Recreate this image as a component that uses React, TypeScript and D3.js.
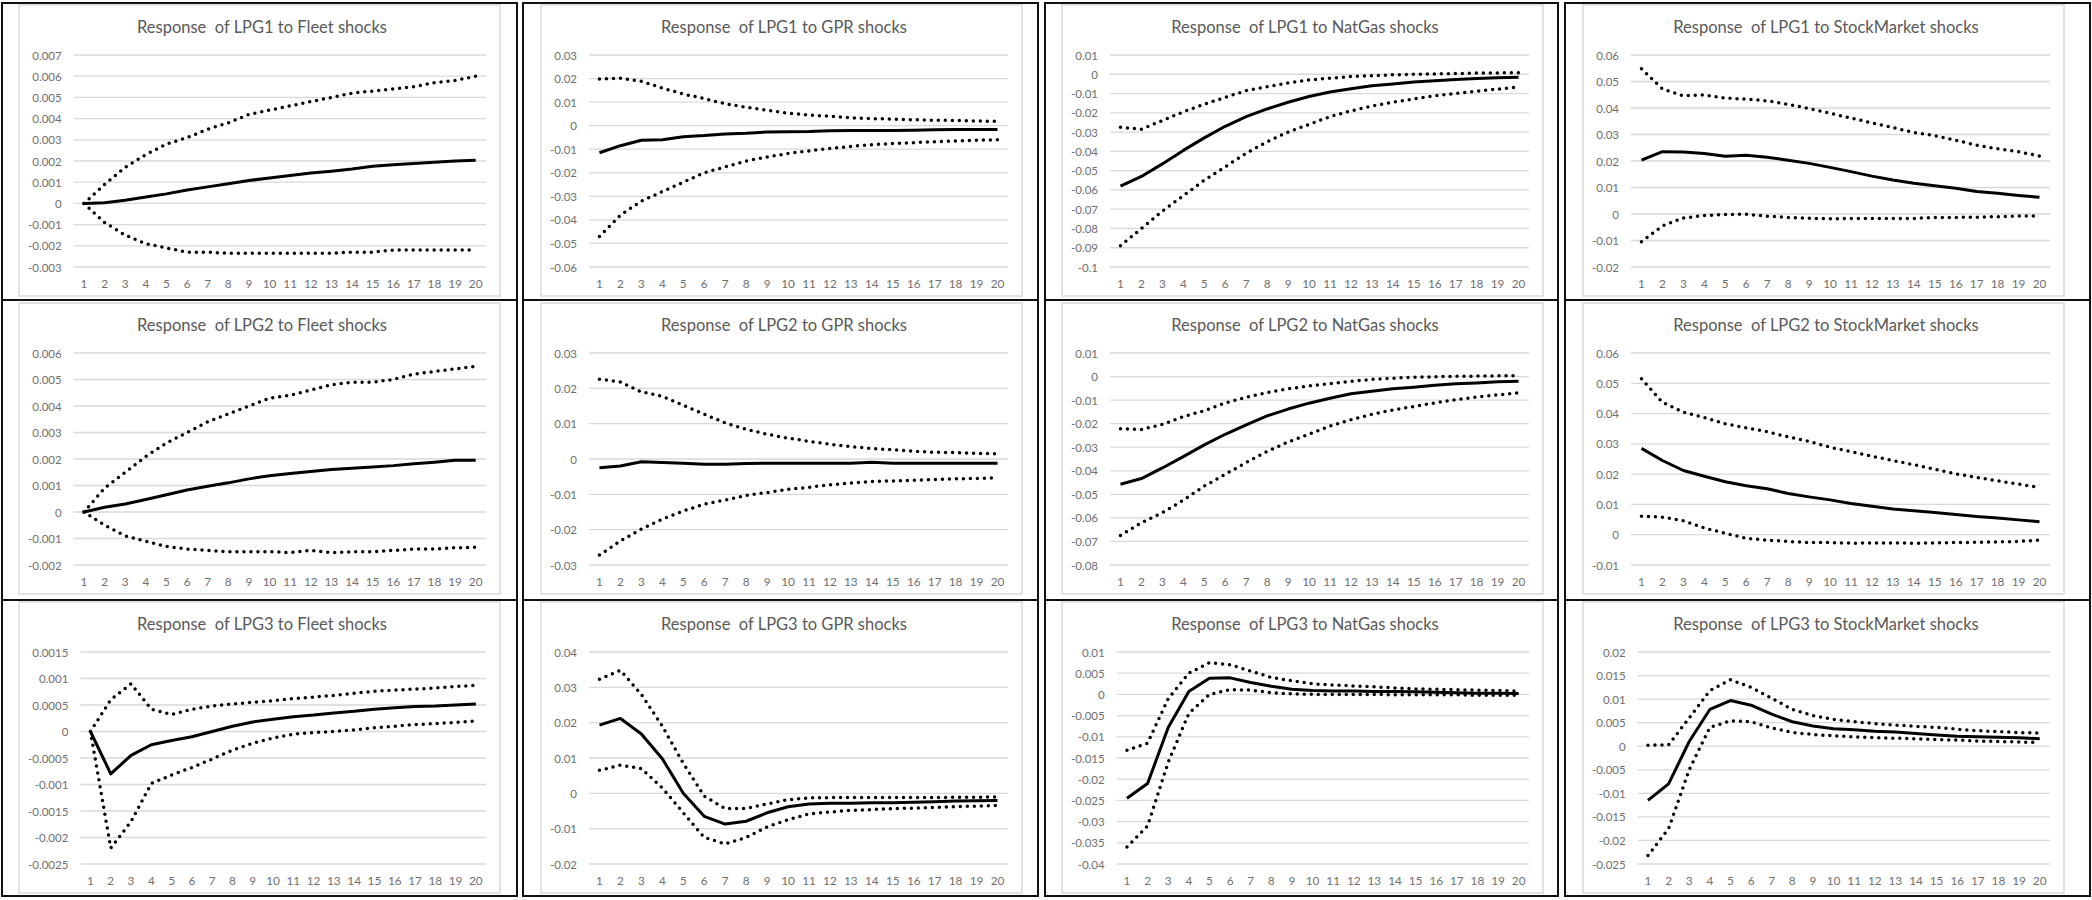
import React, { useRef, useEffect } from "react";
import * as d3 from "d3";

// Impulse responses: solid = response, dotted = lower / upper bands
const responseVars = ["LPG1", "LPG2", "LPG3"];
const shockVars = ["Fleet", "GPR", "NatGas", "StockMarket"];
const periods = d3.range(1, 21);

const lpg1FleetIrf = [0, 0.00003, 0.00015, 0.0003, 0.00045, 0.00063, 0.00078, 0.00093, 0.00108, 0.0012, 0.00132, 0.00143, 0.00152, 0.00162, 0.00175, 0.00182, 0.00188, 0.00194, 0.002, 0.00203];
const lpg1FleetLo = [0, -0.0009, -0.0015, -0.0019, -0.0021, -0.0023, -0.0023, -0.00235, -0.00235, -0.00235, -0.00235, -0.00235, -0.00235, -0.0023, -0.0023, -0.0022, -0.0022, -0.0022, -0.0022, -0.0022];
const lpg1FleetHi = [0, 0.0009, 0.0017, 0.0023, 0.0028, 0.0031, 0.0035, 0.0038, 0.0042, 0.0044, 0.0046, 0.0048, 0.005, 0.0052, 0.0053, 0.0054, 0.0055, 0.0057, 0.0058, 0.006];

const lpg1GprIrf = [-0.0115, -0.0085, -0.0062, -0.006, -0.0047, -0.0042, -0.0035, -0.0032, -0.0027, -0.0026, -0.0025, -0.0022, -0.0021, -0.002, -0.002, -0.0019, -0.0017, -0.0016, -0.0016, -0.0016];
const lpg1GprLo = [-0.047, -0.038, -0.032, -0.028, -0.024, -0.02, -0.0175, -0.015, -0.0133, -0.0118, -0.0107, -0.0097, -0.0088, -0.0081, -0.0076, -0.0072, -0.0068, -0.0065, -0.0062, -0.006];
const lpg1GprHi = [0.0198, 0.0201, 0.0188, 0.016, 0.0134, 0.0115, 0.0093, 0.0078, 0.0065, 0.0053, 0.0045, 0.004, 0.0033, 0.003, 0.0028, 0.0025, 0.0023, 0.0022, 0.002, 0.0018];

const lpg1GasIrf = [-0.058, -0.053, -0.0465, -0.0395, -0.033, -0.027, -0.022, -0.018, -0.0145, -0.0115, -0.0092, -0.0075, -0.006, -0.005, -0.004, -0.0033, -0.0027, -0.0022, -0.0018, -0.0015];
const lpg1GasLo = [-0.089, -0.08, -0.071, -0.063, -0.055, -0.048, -0.041, -0.035, -0.03, -0.026, -0.022, -0.019, -0.0165, -0.0145, -0.0128, -0.0112, -0.01, -0.0088, -0.0077, -0.0066];
const lpg1GasHi = [-0.0275, -0.0285, -0.024, -0.0195, -0.0155, -0.012, -0.0085, -0.0065, -0.0045, -0.003, -0.002, -0.0012, -0.0007, -0.0003, 0, 0.0002, 0.0004, 0.0006, 0.0007, 0.0008];

const lpg1StockIrf = [0.0203, 0.0235, 0.0234, 0.0228, 0.0218, 0.0222, 0.0214, 0.0203, 0.0191, 0.0176, 0.016, 0.0143, 0.0128, 0.0116, 0.0107, 0.0097, 0.0085, 0.0078, 0.007, 0.0063];
const lpg1StockLo = [-0.0105, -0.0045, -0.0015, -0.0006, -0.0002, -0.0001, -0.0008, -0.0013, -0.0016, -0.0018, -0.0017, -0.0017, -0.0017, -0.0017, -0.0013, -0.0013, -0.0012, -0.001, -0.0008, -0.0008];
const lpg1StockHi = [0.0548, 0.0472, 0.0446, 0.0449, 0.0437, 0.0434, 0.0427, 0.0414, 0.0398, 0.038, 0.0362, 0.0344, 0.0326, 0.0308, 0.0296, 0.0278, 0.026, 0.0246, 0.0235, 0.0219];

const lpg2FleetIrf = [0, 0.00018, 0.0003, 0.00047, 0.00065, 0.00083, 0.00097, 0.0011, 0.00125, 0.00137, 0.00145, 0.00153, 0.0016, 0.00165, 0.0017, 0.00175, 0.00182, 0.00188, 0.00195, 0.00195];
const lpg2FleetLo = [0, -0.0005, -0.0009, -0.0011, -0.0013, -0.0014, -0.00145, -0.0015, -0.0015, -0.0015, -0.00153, -0.00145, -0.00153, -0.0015, -0.0015, -0.00145, -0.0014, -0.0014, -0.00135, -0.00133];
const lpg2FleetHi = [0, 0.0009, 0.0015, 0.0021, 0.0026, 0.003, 0.0034, 0.0037, 0.004, 0.0043, 0.0044, 0.0046, 0.0048, 0.0049, 0.0049, 0.005, 0.0052, 0.0053, 0.0054, 0.0055];

const lpg2GprIrf = [-0.0025, -0.002, -0.0008, -0.001, -0.0012, -0.0015, -0.0015, -0.0013, -0.0012, -0.0012, -0.0012, -0.0012, -0.0012, -0.0009, -0.0012, -0.0012, -0.0012, -0.0012, -0.0012, -0.0012];
const lpg2GprLo = [-0.0272, -0.0232, -0.0198, -0.017, -0.0147, -0.0128, -0.0116, -0.0103, -0.0095, -0.0086, -0.008, -0.0073, -0.0068, -0.0064, -0.0062, -0.006, -0.0058, -0.0056, -0.0055, -0.0053];
const lpg2GprHi = [0.0226, 0.0218, 0.019, 0.0177, 0.0152, 0.0127, 0.0102, 0.0084, 0.007, 0.0059, 0.005, 0.0042, 0.0035, 0.003, 0.0026, 0.0022, 0.0019, 0.0018, 0.0016, 0.0015];

const lpg2GasIrf = [-0.0457, -0.0433, -0.0388, -0.034, -0.029, -0.0245, -0.0205, -0.0167, -0.0138, -0.0113, -0.0092, -0.0073, -0.0062, -0.0052, -0.0045, -0.0037, -0.0031, -0.0027, -0.0022, -0.002];
const lpg2GasLo = [-0.0675, -0.062, -0.0578, -0.0525, -0.0465, -0.0415, -0.0365, -0.0318, -0.0278, -0.0245, -0.021, -0.0183, -0.016, -0.0142, -0.0127, -0.0112, -0.0098, -0.0087, -0.0078, -0.0069];
const lpg2GasHi = [-0.0222, -0.0225, -0.0203, -0.017, -0.0145, -0.0112, -0.0088, -0.0068, -0.0052, -0.004, -0.003, -0.002, -0.0012, -0.0007, -0.0003, -0.0001, 0.0001, 0.0002, 0.0003, 0.0003];

const lpg2StockIrf = [0.0285, 0.0245, 0.0212, 0.0193, 0.0175, 0.0162, 0.0152, 0.0136, 0.0125, 0.0115, 0.0103, 0.0094, 0.0085, 0.0079, 0.0073, 0.0067, 0.006, 0.0055, 0.0049, 0.0043];
const lpg2StockLo = [0.0061, 0.0058, 0.0046, 0.0022, 0.0005, -0.0012, -0.0018, -0.0022, -0.0026, -0.0026, -0.0028, -0.0027, -0.0027, -0.0028, -0.0027, -0.0026, -0.0025, -0.0024, -0.0022, -0.0018];
const lpg2StockHi = [0.0515, 0.0437, 0.0405, 0.0387, 0.0366, 0.0353, 0.034, 0.0323, 0.0308, 0.0289, 0.0274, 0.0259, 0.0245, 0.0231, 0.0216, 0.0201, 0.0189, 0.0178, 0.0167, 0.0156];

const lpg3FleetIrf = [0, -0.0008, -0.00045, -0.00025, -0.00017, -0.0001, 0, 0.0001, 0.00018, 0.00023, 0.00028, 0.00031, 0.00035, 0.00038, 0.00042, 0.00045, 0.00047, 0.00048, 0.0005, 0.00052];
const lpg3FleetLo = [0, -0.0022, -0.0017, -0.00098, -0.00082, -0.00068, -0.00052, -0.00035, -0.00022, -0.00012, -0.00005, -0.00002, 0, 0.00003, 0.00007, 0.0001, 0.00013, 0.00015, 0.00017, 0.0002];
const lpg3FleetHi = [0, 0.0006, 0.0009, 0.00042, 0.00032, 0.00042, 0.00048, 0.00052, 0.00055, 0.00058, 0.00062, 0.00065, 0.00068, 0.00072, 0.00076, 0.00078, 0.0008, 0.00082, 0.00085, 0.00087];

const lpg3GprIrf = [0.0193, 0.0212, 0.0168, 0.0098, 0, -0.0065, -0.0087, -0.0079, -0.0055, -0.0038, -0.003, -0.0028, -0.0028, -0.0027, -0.0027, -0.0025, -0.0024, -0.0022, -0.0021, -0.002];
const lpg3GprLo = [0.0065, 0.008, 0.007, 0.0015, -0.0055, -0.0125, -0.0143, -0.0125, -0.0095, -0.0075, -0.0058, -0.0053, -0.0048, -0.0046, -0.0043, -0.0042, -0.004, -0.0038, -0.0036, -0.0034];
const lpg3GprHi = [0.0323, 0.0348, 0.028, 0.019, 0.0085, -0.0008, -0.0043, -0.0043, -0.003, -0.0018, -0.0013, -0.0012, -0.0012, -0.0012, -0.0012, -0.0012, -0.0012, -0.0011, -0.0011, -0.001];

const lpg3GasIrf = [-0.0245, -0.021, -0.0078, 0.0007, 0.0038, 0.0039, 0.0028, 0.0019, 0.0012, 0.0009, 0.0008, 0.0008, 0.0007, 0.0007, 0.0006, 0.0005, 0.0004, 0.0003, 0.0003, 0.0002];
const lpg3GasLo = [-0.036, -0.031, -0.016, -0.0045, 0, 0.0011, 0.001, 0.0004, 0.0001, 0, 0, 0, 0, -0.0001, -0.0001, -0.0001, -0.0001, -0.0002, -0.0002, -0.0002];
const lpg3GasHi = [-0.0132, -0.0115, -0.001, 0.005, 0.0075, 0.007, 0.0055, 0.004, 0.0032, 0.0025, 0.0022, 0.002, 0.0018, 0.0015, 0.0013, 0.0012, 0.0011, 0.001, 0.0009, 0.0008];

const lpg3StockIrf = [-0.0115, -0.008, 0.001, 0.0078, 0.0097, 0.0087, 0.0068, 0.0052, 0.0043, 0.0037, 0.0035, 0.0032, 0.003, 0.0027, 0.0024, 0.0021, 0.002, 0.0019, 0.0018, 0.0016];
const lpg3StockLo = [-0.0232, -0.0175, -0.005, 0.004, 0.0054, 0.0052, 0.0039, 0.0029, 0.0025, 0.0022, 0.002, 0.0018, 0.0017, 0.0016, 0.0014, 0.0013, 0.0011, 0.001, 0.0009, 0.0008];
const lpg3StockHi = [0.0002, 0.0003, 0.006, 0.0118, 0.0141, 0.0125, 0.0102, 0.0078, 0.0065, 0.0057, 0.0052, 0.0048, 0.0045, 0.0042, 0.004, 0.0036, 0.0033, 0.0031, 0.0029, 0.0028];

// y axis (min, max, major unit), panel order row by row
const yMin = [-0.003, -0.06, -0.1, -0.02, -0.002, -0.03, -0.08, -0.01, -0.0025, -0.02, -0.04, -0.025];
const yMax = [0.007, 0.03, 0.01, 0.06, 0.006, 0.03, 0.01, 0.06, 0.0015, 0.04, 0.01, 0.02];
const yStep = [0.001, 0.01, 0.01, 0.01, 0.001, 0.01, 0.01, 0.01, 0.0005, 0.01, 0.005, 0.005];

const panelSeries = [
  [lpg1FleetIrf, lpg1FleetLo, lpg1FleetHi],
  [lpg1GprIrf, lpg1GprLo, lpg1GprHi],
  [lpg1GasIrf, lpg1GasLo, lpg1GasHi],
  [lpg1StockIrf, lpg1StockLo, lpg1StockHi],
  [lpg2FleetIrf, lpg2FleetLo, lpg2FleetHi],
  [lpg2GprIrf, lpg2GprLo, lpg2GprHi],
  [lpg2GasIrf, lpg2GasLo, lpg2GasHi],
  [lpg2StockIrf, lpg2StockLo, lpg2StockHi],
  [lpg3FleetIrf, lpg3FleetLo, lpg3FleetHi],
  [lpg3GprIrf, lpg3GprLo, lpg3GprHi],
  [lpg3GasIrf, lpg3GasLo, lpg3GasHi],
  [lpg3StockIrf, lpg3StockLo, lpg3StockHi],
];

const FONT = "Lato, 'Open Sans', sans-serif";
const TICK_SIZE = 11.5;

const fmt = (v: number) => {
  const r = +v.toFixed(6);
  return r === 0 ? "0" : String(r);
};

export default function App() {
  const svgRef = useRef<SVGSVGElement>(null);

  useEffect(() => {
    if (!svgRef.current) return;
    const svg = d3.select(svgRef.current);
    svg.selectAll("*").remove();

    const width = 2092;
    const height = 900;
    svg.attr("width", width).attr("height", height);

    svg.append("rect").attr("width", width).attr("height", height).attr("fill", "#fff");

    const cellX = [[2, 517], [523, 1038], [1045, 1558], [1565, 2090]];
    const cellY = [[3, 300], [300, 600], [600, 896]];
    const chartX = [19, 541, 1062, 1583];
    const chartY = [5, 303, 602];
    const chartW = 481;
    const chartH = 291;

    const ctx = document.createElement("canvas").getContext("2d");
    const measure = (s: string) => {
      if (!ctx) return s.length * 5.8;
      ctx.font = `${TICK_SIZE}px Lato`;
      return ctx.measureText(s).width;
    };

    // table cell borders
    cellY.forEach(([y0, y1]) => {
      cellX.forEach(([x0, x1]) => {
        svg.append("rect")
          .attr("x", x0).attr("y", y0)
          .attr("width", x1 - x0).attr("height", y1 - y0)
          .attr("fill", "none")
          .attr("stroke", "#111")
          .attr("stroke-width", 2);
      });
    });

    panelSeries.forEach((series, i) => {
      const row = Math.floor(i / 4);
      const col = i % 4;
      const cx = chartX[col];
      const cy = chartY[row];

      const g = svg.append("g");

      g.append("rect")
        .attr("x", cx).attr("y", cy)
        .attr("width", chartW).attr("height", chartH)
        .attr("fill", "#fff")
        .attr("stroke", "#d9d9d9")
        .attr("stroke-width", 1.5);

      g.append("text")
        .attr("x", cx + 243)
        .attr("y", cy + 22)
        .attr("text-anchor", "middle")
        .attr("dominant-baseline", "central")
        .style("font-family", FONT)
        .style("font-size", "16.5px")
        .style("fill", "#595959")
        .style("white-space", "pre")
        .text(`Response  of ${responseVars[row]} to ${shockVars[col]} shocks`);

      const n = Math.round((yMax[i] - yMin[i]) / yStep[i]);
      const ticks = d3.range(0, n + 1).map((k) => yMin[i] + k * yStep[i]);
      const labelW = d3.max(ticks, (t) => measure(fmt(t))) ?? 30;

      const plotLeft = cx + 9 + labelW + 12;
      const plotRight = cx + 467;
      const plotTop = cy + 50;
      const plotBottom = cy + 262;

      const x = d3.scalePoint<number>()
        .domain(periods)
        .range([plotLeft, plotRight])
        .padding(0.5);

      const y = d3.scaleLinear()
        .domain([yMin[i], yMax[i]])
        .range([plotBottom, plotTop]);

      // gridlines + y labels
      ticks.forEach((t) => {
        g.append("line")
          .attr("x1", plotLeft).attr("x2", plotRight)
          .attr("y1", y(t)).attr("y2", y(t))
          .attr("stroke", "#d9d9d9")
          .attr("stroke-width", 1.3);
        g.append("text")
          .attr("x", plotLeft - 12)
          .attr("y", y(t))
          .attr("text-anchor", "end")
          .attr("dominant-baseline", "central")
          .style("font-family", FONT)
          .style("font-size", `${TICK_SIZE}px`)
          .style("fill", "#6f6f6f")
          .text(fmt(t));
      });

      // x labels
      periods.forEach((p) => {
        g.append("text")
          .attr("x", x(p) ?? 0)
          .attr("y", plotBottom + 16)
          .attr("text-anchor", "middle")
          .attr("dominant-baseline", "central")
          .style("font-family", FONT)
          .style("font-size", "11.8px")
          .style("fill", "#6f6f6f")
          .text(String(p));
      });

      const line = d3.line<number>()
        .x((_, k) => x(periods[k]) ?? 0)
        .y((d) => y(d));

      const [irf, lo, hi] = series;

      [lo, hi].forEach((band) => {
        g.append("path")
          .datum(band)
          .attr("fill", "none")
          .attr("stroke", "#000")
          .attr("stroke-width", 3.5)
          .attr("stroke-linecap", "round")
          .attr("stroke-dasharray", "0 7")
          .attr("d", line);
      });

      g.append("path")
        .datum(irf)
        .attr("fill", "none")
        .attr("stroke", "#000")
        .attr("stroke-width", 3)
        .attr("stroke-linejoin", "round")
        .attr("d", line);
    });
  }, []);

  return (
    <svg
      ref={svgRef}
      style={{ position: "absolute", left: 0, top: 0, display: "block" }}
    />
  );
}
